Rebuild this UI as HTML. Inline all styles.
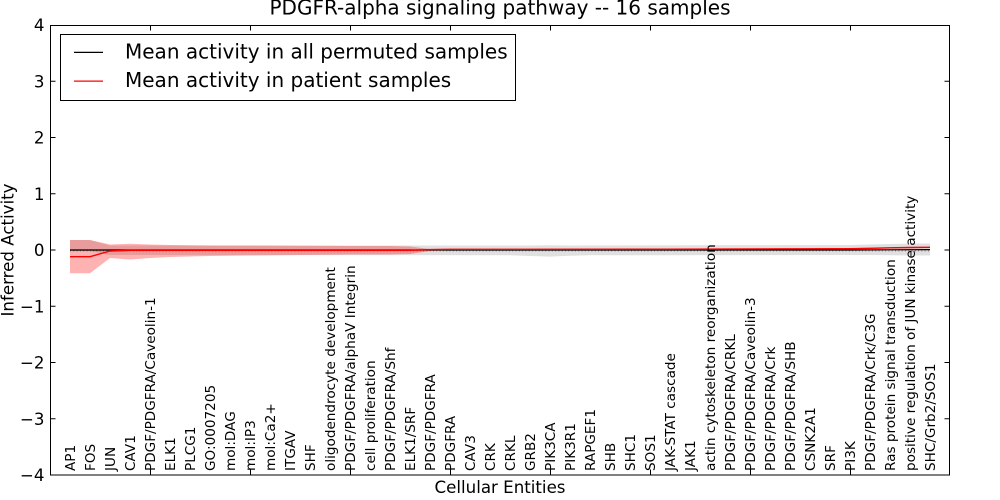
<!DOCTYPE html>
<html>
<head>
<meta charset="utf-8">
<style>
  html, body { margin: 0; padding: 0; background: #ffffff; }
  svg { display: block; }
  text { font-family: "DejaVu Sans", "Liberation Sans", sans-serif; fill: #000; }
</style>
</head>
<body>
<svg width="1000" height="500" viewBox="0 0 1000 500" xmlns="http://www.w3.org/2000/svg">
  <rect x="0" y="0" width="1000" height="500" fill="#ffffff"/>

  <!-- Title -->
  <text x="500" y="14.5" font-size="20" text-anchor="middle">PDGFR-alpha signaling pathway -- 16 samples</text>

  <!-- Gray band (permuted) -->
  <path d="M70,240 L90,240 L110,245.5 L130,245.5 L530,245.5 L550,245.3 L570,245.5 L850,245 L870,244.5 L890,244 L910,243.5 L930,243.5
           L930,255.5 L910,255.5 L890,255.3 L870,255 L850,255 L590,255.3 L570,255.7 L550,256.6 L530,256 L510,255.2 L110,255 L90,251 L70,251 Z"
        fill="#000000" fill-opacity="0.12" stroke="none"/>

  <!-- Red band (patient) -->
  <path d="M70,240 L90,240 L110,244.5 L130,243.8 L150,244.5 L170,245 L190,245.3 L210,245.5 L250,245.5 L300,245.8 L350,246 L390,246 L410,246.5 L430,249 L450,248.8 L670,248.6 L850,248.1 L870,247.7 L890,247.2 L910,246.9 L930,246.7
           L930,248 L910,248.2 L890,248.5 L870,249 L850,249.3 L670,249.8 L450,250 L430,251 L410,254 L390,254.5 L350,254.5 L300,255 L250,255.5 L210,256 L190,256.5 L170,257 L150,258 L130,259.5 L110,258 L90,273.3 L70,273.3 Z"
        fill="#ff0000" fill-opacity="0.3" stroke="none"/>

  <!-- dotted artifact line -->
  <line x1="70" y1="250.9" x2="930" y2="250.9" stroke="#333" stroke-width="1" stroke-dasharray="1 2.3" stroke-opacity="0.6"/>

  <!-- Black mean line -->
  <polyline points="70,250 850,250 930,249.6" fill="none" stroke="#000000" stroke-width="1.2"/>

  <!-- Red mean line -->
  <polyline points="70,256.7 90,256.7 110,251 130,250.3 410,250.3 430,249.6 450,249.3 670,249.2 850,248.7 870,248.3 890,247.8 910,247.5 930,247.3"
            fill="none" stroke="#ff0000" stroke-width="1.4" stroke-linejoin="round"/>

  <!-- Axes frame -->
  <rect x="50.5" y="25.5" width="899" height="449.5" fill="none" stroke="#000" stroke-width="1"/>

  <!-- Y ticks (left and right, inward) -->
  <g stroke="#000" stroke-width="1">
    <line x1="50" y1="81.25" x2="55.5" y2="81.25"/>
    <line x1="50" y1="137.5" x2="55.5" y2="137.5"/>
    <line x1="50" y1="193.75" x2="55.5" y2="193.75"/>
    <line x1="50" y1="250" x2="55.5" y2="250"/>
    <line x1="50" y1="306.25" x2="55.5" y2="306.25"/>
    <line x1="50" y1="362.5" x2="55.5" y2="362.5"/>
    <line x1="50" y1="418.75" x2="55.5" y2="418.75"/>
    <line x1="950" y1="81.25" x2="944.5" y2="81.25"/>
    <line x1="950" y1="137.5" x2="944.5" y2="137.5"/>
    <line x1="950" y1="193.75" x2="944.5" y2="193.75"/>
    <line x1="950" y1="250" x2="944.5" y2="250"/>
    <line x1="950" y1="306.25" x2="944.5" y2="306.25"/>
    <line x1="950" y1="362.5" x2="944.5" y2="362.5"/>
    <line x1="950" y1="418.75" x2="944.5" y2="418.75"/>
    <!-- X ticks top and bottom -->
    <line x1="150.5" y1="25" x2="150.5" y2="30.5"/>
    <line x1="250.5" y1="25" x2="250.5" y2="30.5"/>
    <line x1="350.5" y1="25" x2="350.5" y2="30.5"/>
    <line x1="450.5" y1="25" x2="450.5" y2="30.5"/>
    <line x1="550.5" y1="25" x2="550.5" y2="30.5"/>
    <line x1="650.5" y1="25" x2="650.5" y2="30.5"/>
    <line x1="750.5" y1="25" x2="750.5" y2="30.5"/>
    <line x1="850.5" y1="25" x2="850.5" y2="30.5"/>
    <line x1="150.5" y1="475" x2="150.5" y2="469.5"/>
    <line x1="250.5" y1="475" x2="250.5" y2="469.5"/>
    <line x1="350.5" y1="475" x2="350.5" y2="469.5"/>
    <line x1="450.5" y1="475" x2="450.5" y2="469.5"/>
    <line x1="550.5" y1="475" x2="550.5" y2="469.5"/>
    <line x1="650.5" y1="475" x2="650.5" y2="469.5"/>
    <line x1="750.5" y1="475" x2="750.5" y2="469.5"/>
    <line x1="850.5" y1="475" x2="850.5" y2="469.5"/>
  </g>

  <!-- Y tick labels -->
  <g font-size="16.67" text-anchor="end">
    <text x="44.5" y="31">4</text>
    <text x="44.5" y="87.25">3</text>
    <text x="44.5" y="143.5">2</text>
    <text x="44.5" y="199.75">1</text>
    <text x="44.5" y="256">0</text>
    <text x="44.5" y="312.25">−1</text>
    <text x="44.5" y="368.5">−2</text>
    <text x="44.5" y="424.75">−3</text>
    <text x="44.5" y="481">−4</text>
  </g>

  <!-- Axis labels -->
  <text x="500" y="493" font-size="16.67" text-anchor="middle">Cellular Entities</text>
  <text transform="translate(13.5,250) rotate(-90)" font-size="16.67" text-anchor="middle">Inferred Activity</text>

  <!-- X tick labels (rotated, inside axes) -->
  <g font-size="13.6">
    <text transform="translate(75,471) rotate(-90)">AP1</text>
    <text transform="translate(95,471) rotate(-90)">FOS</text>
    <text transform="translate(115,471) rotate(-90)">JUN</text>
    <text transform="translate(135,471) rotate(-90)">CAV1</text>
    <text transform="translate(155,471) rotate(-90)">PDGF/PDGFRA/Caveolin-1</text>
    <text transform="translate(175,471) rotate(-90)">ELK1</text>
    <text transform="translate(195,471) rotate(-90)">PLCG1</text>
    <text transform="translate(215,471) rotate(-90)">GO:0007205</text>
    <text transform="translate(235,471) rotate(-90)">mol:DAG</text>
    <text transform="translate(255,471) rotate(-90)">mol:IP3</text>
    <text transform="translate(275,471) rotate(-90)">mol:Ca2+</text>
    <text transform="translate(295,471) rotate(-90)">ITGAV</text>
    <text transform="translate(315,471) rotate(-90)">SHF</text>
    <text transform="translate(335,471) rotate(-90)">oligodendrocyte development</text>
    <text transform="translate(355,471) rotate(-90)">PDGF/PDGFRA/alphaV Integrin</text>
    <text transform="translate(375,471) rotate(-90)">cell proliferation</text>
    <text transform="translate(395,471) rotate(-90)">PDGF/PDGFRA/Shf</text>
    <text transform="translate(415,471) rotate(-90)">ELK1/SRF</text>
    <text transform="translate(435,471) rotate(-90)">PDGF/PDGFRA</text>
    <text transform="translate(455,471) rotate(-90)">PDGFRA</text>
    <text transform="translate(475,471) rotate(-90)">CAV3</text>
    <text transform="translate(495,471) rotate(-90)">CRK</text>
    <text transform="translate(515,471) rotate(-90)">CRKL</text>
    <text transform="translate(535,471) rotate(-90)">GRB2</text>
    <text transform="translate(555,471) rotate(-90)">PIK3CA</text>
    <text transform="translate(575,471) rotate(-90)">PIK3R1</text>
    <text transform="translate(595,471) rotate(-90)">RAPGEF1</text>
    <text transform="translate(615,471) rotate(-90)">SHB</text>
    <text transform="translate(635,471) rotate(-90)">SHC1</text>
    <text transform="translate(655,471) rotate(-90)">SOS1</text>
    <text transform="translate(675,471) rotate(-90)">JAK-STAT cascade</text>
    <text transform="translate(695,471) rotate(-90)">JAK1</text>
    <text transform="translate(715,471) rotate(-90)">actin cytoskeleton reorganization</text>
    <text transform="translate(735,471) rotate(-90)">PDGF/PDGFRA/CRKL</text>
    <text transform="translate(755,471) rotate(-90)">PDGF/PDGFRA/Caveolin-3</text>
    <text transform="translate(775,471) rotate(-90)">PDGF/PDGFRA/Crk</text>
    <text transform="translate(795,471) rotate(-90)">PDGF/PDGFRA/SHB</text>
    <text transform="translate(815,471) rotate(-90)">CSNK2A1</text>
    <text transform="translate(835,471) rotate(-90)">SRF</text>
    <text transform="translate(855,471) rotate(-90)">PI3K</text>
    <text transform="translate(875,471) rotate(-90)">PDGF/PDGFRA/Crk/C3G</text>
    <text transform="translate(895,471) rotate(-90)">Ras protein signal transduction</text>
    <text transform="translate(915,471) rotate(-90)">positive regulation of JUN kinase activity</text>
    <text transform="translate(935,471) rotate(-90)">SHC/Grb2/SOS1</text>
  </g>

  <!-- Legend -->
  <rect x="60.5" y="34.5" width="455" height="66" fill="#ffffff" stroke="#000" stroke-width="1"/>
  <line x1="74" y1="52.4" x2="103" y2="52.4" stroke="#000" stroke-width="1.3"/>
  <line x1="74" y1="81.1" x2="103" y2="81.1" stroke="#ff0000" stroke-width="1.3"/>
  <text x="125" y="58.3" font-size="20">Mean activity in all permuted samples</text>
  <text x="125" y="87.1" font-size="20">Mean activity in patient samples</text>
</svg>
</body>
</html>
